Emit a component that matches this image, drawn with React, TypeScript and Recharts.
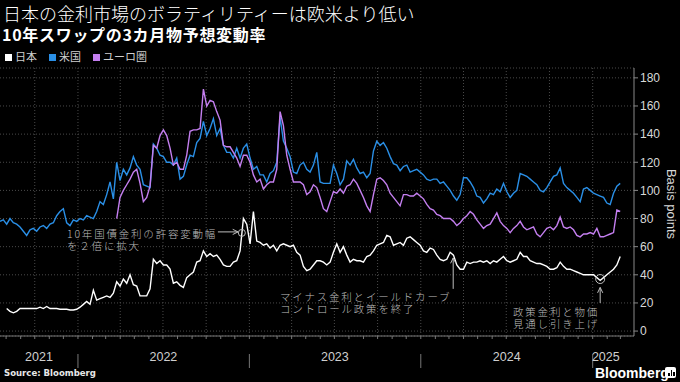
import React from 'react';
import {
  LineChart,
  Line,
  XAxis,
  YAxis,
  CartesianGrid,
  ReferenceLine,
  ReferenceDot
} from 'recharts';

// days counted from 2021-01-01; one reading every ~7 days from mid-July 2021
const START_DAY = 199;
const STEP_DAYS = 7.1;
const DOMAIN: [number, number] = [199, 1549];

const usVol = [
  78, 79, 76, 80, 77, 76, 74, 71, 68, 72,
  73, 71, 74, 75, 73, 76, 77, 82, 85, 87,
  77, 75, 79, 78, 80, 79, 82, 81, 80, 85,
  92, 90, 97, 106, 94, 120, 107, 115, 111, 116,
  124, 118, 115, 104, 103, 102, 133, 130, 125, 124,
  120, 120, 118, 123, 108, 110, 118, 125, 124, 134,
  137, 149, 139, 144, 151, 139, 144, 132, 127, 127,
  123, 130, 123, 130, 133, 123, 115, 117, 111, 111,
  106, 112, 114, 120, 152, 135, 130, 124, 113, 112,
  118, 120, 115, 113, 118, 127, 106, 105, 105, 105,
  118, 112, 104, 108, 121, 118, 122, 116, 112, 113,
  109, 112, 128, 135, 132, 134, 130, 124, 119, 118,
  114, 117, 118, 113, 114, 115, 113, 111, 108, 107,
  108, 108, 105, 106, 103, 100, 96, 93, 97, 109,
  109, 106, 102, 96, 95, 91, 94, 98, 97, 101,
  99, 105, 99, 95, 98, 100, 112, 111, 110, 108,
  106, 104, 100, 99, 102, 106, 110, 111, 116, 105,
  102, 100, 98, 95, 92, 101, 102, 100, 98, 97,
  96, 95, 91, 90, 98, 103, 105
];

const euVol = [
  null, null, null, null, null, null, null, null, null, null,
  null, null, null, null, null, null, null, null, null, null,
  null, null, null, null, null, null, null, null, null, null,
  null, null, null, null, null, 80, 95, 100, 104, 108,
  113, 115, 105, 92, 95, 103, 132, 130, 139, 143,
  139, 130, 118, 120, 115, 115, 125, 142, 143, 143,
  144, 172, 160, 164, 163, 156, 150, 132, 131, 131,
  127, 123, 117, 125, 125, 120, 111, 106, 108, 101,
  104, 106, 106, 115, 156, 146, 125, 115, 106, 106,
  106, 104, 97, 99, 104, 102, 95, 87, 85, 92,
  99, 98, 101, 98, 103, 104, 108, 105, 100, 95,
  89, 85, 97, 108, 109, 107, 104, 98, 95, 92,
  89, 97, 97, 96, 96, 98, 96, 94, 90, 87,
  86, 83, 82, 80, 80, 80, 78, 75, 77, 80,
  82, 85, 83, 79, 76, 73, 75, 76, 80, 84,
  78, 75, 73, 70, 73, 75, 78, 74, 72, 73,
  74, 69, 67, 70, 73, 74, 72, 75, 81, 74,
  73, 74, 72, 68, 67, 69, 69, 70, 69, 73,
  67, 67, 68, 69, 70, 86, 85
];

const jpVol = [
  null, null, 16, 14, 13, 14, 16, 16, 16, 16,
  16, 16, 17, 16, 17.5, 16, 16, 16, 15.5, 15.5,
  15.5, 15, 15, 15.5, 17, 19, 21, 19, 29, 22,
  23, 24, 25, 24, 27, 35, 32, 37, 34, 40,
  33, 32, 25, 25, 25, 30, 51, 48, 50, 47,
  47, 44, 34, 35, 32.5, 31, 38, 40, 42, 49,
  50, 57, 53, 55, 53, 54, 51, 47, 46, 46,
  49, 50, 57, 80, 76, 62, 85, 64, 63, 61,
  62, 59, 61, 57, 61, 62, 61, 60, 61, 56,
  54, 46, 43, 44, 47, 50, 50, 49, 47, 49,
  56, 62, 56, 60, 54, 49, 51, 50, 50, 49,
  53, 54, 57, 61, 62, 63, 68, 67, 61, 62,
  63, 61, 66, 67, 65, 63, 61, 57, 56, 59,
  58, 54, 51, 50, 51, 56, 54, 47, 44, 44,
  49, 48, 49, 49, 50, 49, 50, 48, 50, 49,
  51, 53, 50, 49, 50, 51, 56, 53, 53, 50,
  49, 48, 48, 47, 46, 44, 44, 45, 49, 46,
  44, 44, 43, 42, 41, 40, 40, 40, 40, 38,
  36, 38, 40, 42, 44, 47, 53
];

const yTicks = [0, 20, 40, 60, 80, 100, 120, 140, 160, 180];
const yearNames = ['2021', '2022', '2023', '2024', '2025'];
const yearLabelDays = [282, 547, 912, 1278, 1489];

const dayOf = (y: number, m: number) =>
  (Date.UTC(y, m, 1) - Date.UTC(2021, 0, 1)) / 86400000;

const monthTicks: number[] = [];
const quarterTicks: number[] = [];
for (let y = 2021; y <= 2025; y++) {
  for (let m = 0; m < 12; m++) {
    const d = dayOf(y, m);
    if (d < DOMAIN[0] || d > DOMAIN[1]) continue;
    monthTicks.push(d);
    if (m % 3 === 0) quarterTicks.push(d);
  }
}
const yearBounds = [dayOf(2022, 0), dayOf(2023, 0), dayOf(2024, 0), dayOf(2025, 0)];
const yearAxisTicks = [...yearLabelDays, ...yearBounds].sort((a, b) => a - b);

const rows = usVol.map((v, i) => ({
  day: START_DAY + i * STEP_DAYS,
  us: v,
  eu: euVol[i],
  jp: jpVol[i]
}));

const US_COLOR = '#2a8fe6';
const EU_COLOR = '#c47ff0';
const JP_COLOR = '#ffffff';
const NOTE_COLOR = '#bdbdbd';
const GRID = '#4a4a4a';

const YearTick = (props: any) => {
  const { x, y, payload } = props;
  const idx = yearLabelDays.indexOf(payload.value);
  if (idx < 0) {
    return <line x1={x} x2={x} y1={y + 4} y2={y + 18} stroke="#777" strokeWidth={1} />;
  }
  return (
    <text x={x} y={y + 11} textAnchor="middle" fill="#cfcfcf" fontSize={12.5}>
      {yearNames[idx]}
    </text>
  );
};

// arrow drawn along a reference segment, head at the second point
const arrowShape = (props: any) => {
  const { x1, y1, x2, y2 } = props;
  const a = Math.atan2(y2 - y1, x2 - x1);
  const h = 6;
  const p1 = [x2 - h * Math.cos(a - 0.45), y2 - h * Math.sin(a - 0.45)];
  const p2 = [x2 - h * Math.cos(a + 0.45), y2 - h * Math.sin(a + 0.45)];
  return (
    <g>
      <line x1={x1} y1={y1} x2={x2} y2={y2} stroke={NOTE_COLOR} strokeWidth={1} />
      <polyline
        points={`${p1[0]},${p1[1]} ${x2},${y2} ${p2[0]},${p2[1]}`}
        fill="none"
        stroke={NOTE_COLOR}
        strokeWidth={1}
      />
    </g>
  );
};

const noteStyle: React.CSSProperties = {
  position: 'absolute',
  color: NOTE_COLOR,
  fontSize: 10.5,
  lineHeight: '12px',
  letterSpacing: 1.8,
  fontWeight: 300,
  whiteSpace: 'nowrap',
  fontFamily: '"Noto Sans CJK JP", sans-serif'
};

const Note = ({ left, top, lines }: { left: number; top: number; lines: string[] }) => (
  <>
    {lines.map((t, i) => (
      <div key={i} style={{ ...noteStyle, left, top: top + i * 12 }}>
        {t}
      </div>
    ))}
  </>
);

const Swatch = ({ color }: { color: string }) => (
  <span style={{ display: 'inline-block', width: 7, height: 7, background: color, marginRight: 3, verticalAlign: 0 }} />
);

const App: React.FC = () => {
  return (
    <div
      style={{
        position: 'relative',
        width: 680,
        height: 382,
        background: '#000',
        overflow: 'hidden',
        fontFamily: '"Noto Sans CJK JP", "Liberation Sans", sans-serif'
      }}
    >
      <style>{'body{margin:0;background:#000}'}</style>

      <div style={{ position: 'absolute', left: 3, top: 1, color: '#fff', fontSize: 18, fontWeight: 300, lineHeight: '24px', whiteSpace: 'nowrap' }}>
        日本の金利市場のボラティリティーは欧米より低い
      </div>
      <div style={{ position: 'absolute', left: 2, top: 24, color: '#fff', fontSize: 16, fontWeight: 700, lineHeight: '20px', letterSpacing: 0.7, whiteSpace: 'nowrap' }}>
        10年スワップの3カ月物予想変動率
      </div>
      <div style={{ position: 'absolute', left: 5, top: 49, color: '#cfcfcf', fontSize: 11, lineHeight: '14px', whiteSpace: 'nowrap' }}>
        <Swatch color={JP_COLOR} />日本
        <span style={{ marginLeft: 12 }} />
        <Swatch color={US_COLOR} />米国
        <span style={{ marginLeft: 12 }} />
        <Swatch color={EU_COLOR} />ユーロ圏
      </div>

      <LineChart
        width={680}
        height={382}
        data={rows}
        margin={{ top: 68, right: 0, bottom: 10, left: 0 }}
        style={{ position: 'absolute', left: 0, top: 0, fontFamily: '"Liberation Sans", sans-serif' }}
      >
        <CartesianGrid xAxisId="m" vertical={false} stroke={GRID} strokeDasharray="1 2" />
        <XAxis
          xAxisId="m"
          dataKey="day"
          type="number"
          domain={DOMAIN}
          allowDataOverflow
          ticks={monthTicks}
          interval={0}
          tickFormatter={() => ''}
          tickSize={3}
          height={6}
          axisLine={{ stroke: '#777' }}
          tickLine={{ stroke: '#777' }}
        />
        <XAxis
          xAxisId="y"
          dataKey="day"
          type="number"
          domain={DOMAIN}
          allowDataOverflow
          ticks={yearAxisTicks}
          interval={0}
          tick={<YearTick />}
          axisLine={false}
          tickLine={false}
          height={30}
        />
        <YAxis
          orientation="right"
          domain={[-3.5, 187]}
          allowDataOverflow
          ticks={yTicks}
          interval={0}
          width={46}
          tickSize={4}
          axisLine={{ stroke: '#888' }}
          tickLine={{ stroke: '#888' }}
          tick={{ fill: '#d8d8d8', fontSize: 12 }}
        />
        {quarterTicks.map((d) => (
          <ReferenceLine key={d} xAxisId="m" x={d} stroke={GRID} strokeDasharray="1 2" />
        ))}

        <Line xAxisId="m" type="linear" dataKey="us" stroke={US_COLOR} strokeWidth={1.4} dot={false} isAnimationActive={false} />
        <Line xAxisId="m" type="linear" dataKey="eu" stroke={EU_COLOR} strokeWidth={1.4} dot={false} isAnimationActive={false} />
        <Line xAxisId="m" type="linear" dataKey="jp" stroke={JP_COLOR} strokeWidth={1.4} dot={false} isAnimationActive={false} />

        {/* annotations */}
        <ReferenceLine xAxisId="m" segment={[{ x: 663, y: 70.5 }, { x: 706, y: 70.5 }]} shape={arrowShape} ifOverflow="visible" />
        <ReferenceDot xAxisId="m" x={714} y={69.8} r={3.5} fill="none" stroke={NOTE_COLOR} strokeWidth={1} />
        <ReferenceLine xAxisId="m" segment={[{ x: 1164, y: 30 }, { x: 1164, y: 52 }]} shape={arrowShape} ifOverflow="visible" />
        <ReferenceLine xAxisId="m" segment={[{ x: 1477, y: 20 }, { x: 1477, y: 31 }]} shape={arrowShape} ifOverflow="visible" />
        <ReferenceDot xAxisId="m" x={1477} y={37} r={4.5} fill="none" stroke={NOTE_COLOR} strokeWidth={1} />
      </LineChart>

      <Note left={67} top={228} lines={['10年国債金利の許容変動幅', 'を２倍に拡大']} />
      <Note left={280} top={291} lines={['マイナス金利とイールドカーブ', 'コントロール政策を終了']} />
      <Note left={513} top={306} lines={['政策金利と物価', '見通し引き上げ']} />

      <div
        style={{
          position: 'absolute',
          left: 671,
          top: 204,
          transform: 'translate(-50%, -50%) rotate(90deg)',
          color: '#d8d8d8',
          fontSize: 13,
          lineHeight: '14px',
          whiteSpace: 'nowrap',
          fontFamily: '"Liberation Sans", sans-serif'
        }}
      >
        Basis points
      </div>

      <div style={{ position: 'absolute', left: 4, top: 367, color: '#e8e8e8', fontSize: 9.5, fontWeight: 700, fontFamily: '"DejaVu Sans Condensed", "DejaVu Sans", sans-serif', whiteSpace: 'nowrap' }}>
        Source: Bloomberg
      </div>
      <div style={{ position: 'absolute', left: 595, top: 365, color: '#fff', fontSize: 14, lineHeight: '16px', fontWeight: 700, fontFamily: '"Liberation Sans", sans-serif', whiteSpace: 'nowrap' }}>
        Bloomberg
      </div>
      <div style={{ position: 'absolute', left: 665, top: 367, width: 11, height: 11, background: '#fff', borderRadius: 2 }}>
        <div style={{ position: 'absolute', left: 3, bottom: 2, width: 1.5, height: 3, background: '#000' }} />
        <div style={{ position: 'absolute', left: 5.5, bottom: 2, width: 1.5, height: 6, background: '#000' }} />
        <div style={{ position: 'absolute', left: 8, bottom: 2, width: 1.5, height: 4, background: '#000' }} />
      </div>
    </div>
  );
};

export default App;
